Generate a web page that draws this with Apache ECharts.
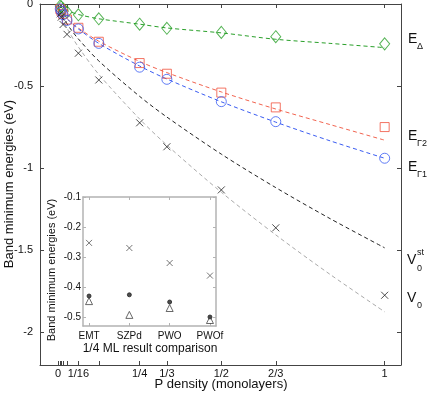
<!DOCTYPE html>
<html>
<head>
<meta charset="utf-8">
<script src="https://cdn.jsdelivr.net/npm/echarts@6/dist/echarts.min.js"></script>
<style>html,body{margin:0;padding:0;background:#fff}#main{width:430px;height:394px}</style>
</head>
<body>
<div id="main"></div>
<script>
// main plot: band minimum vs P density
var densities = [1/144, 1/100, 1/64, 1/36, 1/16, 1/8, 1/4, 1/3, 1/2, 2/3, 1];
var eDelta  = [-0.012, -0.018, -0.03, -0.048, -0.066, -0.09, -0.123, -0.148, -0.173, -0.199, -0.243];
var eGamma2 = [-0.03, -0.042, -0.06, -0.095, -0.145, -0.23, -0.36, -0.425, -0.54, -0.63, -0.75];
var eGamma1 = [-0.03, -0.045, -0.065, -0.1, -0.152, -0.24, -0.385, -0.459, -0.595, -0.717, -0.94];
var v0      = [-0.06, -0.08, -0.125, -0.185, -0.3, -0.463, -0.724, -0.87, -1.133, -1.364, -1.775];

// dashed fit curves
var fitX      = [0.004, 0.016, 0.036, 0.0625, 0.125, 0.25, 1/3, 0.5, 2/3, 0.833, 1];
var fitDelta  = [-0.012, -0.028, -0.046, -0.064, -0.09, -0.123, -0.146, -0.176, -0.215, -0.24, -0.266];
var fitGamma2 = [-0.027, -0.063, -0.105, -0.147, -0.227, -0.35, -0.418, -0.536, -0.64, -0.735, -0.83];
var fitGamma1 = [-0.025, -0.062, -0.106, -0.152, -0.24, -0.378, -0.457, -0.596, -0.72, -0.834, -0.94];
var fitV0st   = [-0.031, -0.082, -0.145, -0.213, -0.347, -0.563, -0.689, -0.915, -1.119, -1.308, -1.486];
var fitV0     = [-0.037, -0.1, -0.177, -0.262, -0.429, -0.701, -0.86, -1.147, -1.407, -1.648, -1.876];

var xTicks = [0, 1/144, 1/100, 1/64, 1/36, 1/16, 1/8, 1/4, 1/3, 1/2, 2/3, 1];
var xLabelValues = [0, 1/16, 1/4, 1/3, 1/2, 2/3, 1];
var xLabelText = ['0', '1/16', '1/4', '1/3', '1/2', '2/3', '1'];
var yTicks = [0, -0.5, -1, -1.5, -2];

// inset: 1/4 ML comparison
var insetCats = ['EMT', 'SZPd', 'PWO', 'PWOf'];
var insetCross = [-0.253, -0.27, -0.32, -0.362];
var insetStar  = [-0.43, -0.426, -0.45, -0.5];
var insetTri   = [-0.447, -0.493, -0.47, -0.51];
var insetTicks = [-0.1, -0.2, -0.3, -0.4, -0.5];

var FONT = 'Liberation Sans, Arial, sans-serif';
var CROSS = 'path://M0,0L10,10M10,0L0,10';

function pairs(xs, ys) {
    return xs.map(function (x, i) { return [x, ys[i]]; });
}
function negLabel(v) {
    if (Math.abs(v) < 1e-9) return '0';
    return '-' + String(Math.round(Math.abs(v) * 100) / 100);
}
function fracLabel(v) {
    for (var i = 0; i < xLabelValues.length; i++) {
        if (Math.abs(xLabelValues[i] - v) < 1e-6) return xLabelText[i];
    }
    return '';
}

function frameX(grid, pos, showLabel, color, width, ticks, labels, fmt, min, max, fs, margin) {
    return {
        type: 'value', gridIndex: grid, position: pos, min: min, max: max,
        axisLine: { show: true, onZero: false, lineStyle: { color: color, width: width } },
        axisTick: { show: true, inside: true, length: 4, customValues: ticks, lineStyle: { color: color, width: 1 } },
        axisLabel: { show: showLabel, customValues: labels, formatter: fmt, color: '#111', fontSize: fs, fontFamily: FONT, margin: margin },
        splitLine: { show: false }
    };
}
function frameY(grid, pos, showLabel, color, width, ticks, min, max, fs, margin) {
    return {
        type: 'value', gridIndex: grid, position: pos, min: min, max: max,
        axisLine: { show: true, onZero: false, lineStyle: { color: color, width: width } },
        axisTick: { show: true, inside: true, length: 4, customValues: ticks, lineStyle: { color: color, width: 1 } },
        axisLabel: { show: showLabel, customValues: ticks, formatter: negLabel, color: '#111', fontSize: fs, fontFamily: FONT, margin: margin },
        splitLine: { show: false }
    };
}

var chart = echarts.init(document.getElementById('main'));

var xIn = frameX(1, 'bottom', true, '#b3b3b3', 1.5, [1, 2, 3, 4], [1, 2, 3, 4],
    function (v) { return insetCats[Math.round(v) - 1] || ''; }, 0.85, 4.15, 10, 5);
xIn.axisTick.length = 3;
var xInTop = frameX(1, 'top', false, '#b3b3b3', 1.5, [1, 2, 3, 4], [], null, 0.85, 4.15, 10, 5);
xInTop.axisTick.length = 3;
var yIn = frameY(1, 'left', true, '#b3b3b3', 1.5, insetTicks, -0.53, -0.1, 10, 2);
yIn.axisTick.length = 3;
var yInRight = frameY(1, 'right', false, '#b3b3b3', 1.5, insetTicks, -0.53, -0.1, 10, 2);
yInRight.axisTick.length = 3;

function fitLine(ys, color) {
    return {
        type: 'line', xAxisIndex: 0, yAxisIndex: 0, data: pairs(fitX, ys),
        smooth: 0.3, symbol: 'none', silent: true, z: 2,
        lineStyle: { color: color, width: 1, type: [4, 3] }
    };
}
function marks(ys, symbol, size, color, xs, xi, yi, fill) {
    return {
        type: 'scatter', xAxisIndex: xi, yAxisIndex: yi, data: pairs(xs, ys),
        symbol: symbol, symbolSize: size, silent: true, z: 10,
        itemStyle: { color: fill || 'rgba(0,0,0,0)', borderColor: color, borderWidth: 1 }
    };
}
function label(x, y, text, size, rot) {
    return { type: 'text', x: x, y: y, rotation: rot || 0, z: 20,
        style: { text: text, font: size + 'px ' + FONT, fill: '#111', align: 'center', verticalAlign: 'middle' } };
}
function sym(x, y, text, size) {
    return { type: 'text', x: x, y: y, z: 20,
        style: { text: text, font: size + 'px ' + FONT, fill: '#111', verticalAlign: 'middle' } };
}

var insetX = [1, 2, 3, 4];

option = {
    animation: false,
    backgroundColor: '#fff',
    grid: [
        { left: 40, top: 4, width: 361, height: 361, outerBoundsMode: 'none', containLabel: false },
        { left: 83, top: 197, width: 133, height: 129, outerBoundsMode: 'none', containLabel: false,
          show: true, backgroundColor: '#fff', borderWidth: 0 }
    ],
    xAxis: [
        frameX(0, 'bottom', true, '#444', 1, xTicks, xLabelValues, fracLabel, -0.055, 1.05, 11, 3),
        frameX(0, 'top', false, '#444', 1, xTicks, [], null, -0.055, 1.05, 11, 3),
        xIn,
        xInTop
    ],
    yAxis: [
        frameY(0, 'left', true, '#444', 1, yTicks, -2.2, 0, 11, 7),
        frameY(0, 'right', false, '#444', 1, yTicks, -2.2, 0, 11, 7),
        yIn,
        yInRight
    ],
    series: [
        fitLine(fitDelta, '#2aa02a'),
        fitLine(fitGamma2, '#f26450'),
        fitLine(fitGamma1, '#3a5cf2'),
        fitLine(fitV0st, '#222'),
        fitLine(fitV0, '#aaa'),
        marks(eDelta, 'diamond', [10, 12], '#2aa02a', densities, 0, 0),
        marks(eGamma2, 'rect', 9, '#f0503c', densities, 0, 0),
        marks(eGamma1, 'circle', 10, '#3a5cf2', densities, 0, 0),
        marks(v0, CROSS, 7, '#222', densities, 0, 0),
        marks(insetCross, CROSS, 6, '#555', insetX, 2, 2),
        marks(insetStar, 'circle', 4, '#222', insetX, 2, 2, '#222'),
        marks(insetTri, 'triangle', 7, '#444', insetX, 2, 2)
    ],
    graphic: [
        sym(408, 39, 'E', 14), sym(417, 47, 'Δ', 9),
        sym(408, 136, 'E', 14), sym(417, 144, 'Γ2', 9),
        sym(408, 167, 'E', 14), sym(417, 175, 'Γ1', 9),
        sym(407, 260, 'V', 14), sym(417, 253, 'st', 9), sym(417, 269, '0', 9),
        sym(407, 298, 'V', 14), sym(417, 306, '0', 9),
        label(9, 184, 'Band minimum energies (eV)', 13, Math.PI / 2),
        label(221, 384, 'P density (monolayers)', 13),
        label(52, 270, 'Band minimum energies (eV)', 11, Math.PI / 2),
        label(150, 349, '1/4 ML result comparison', 12)
    ]
};

chart.setOption(option);
</script>
</body>
</html>
